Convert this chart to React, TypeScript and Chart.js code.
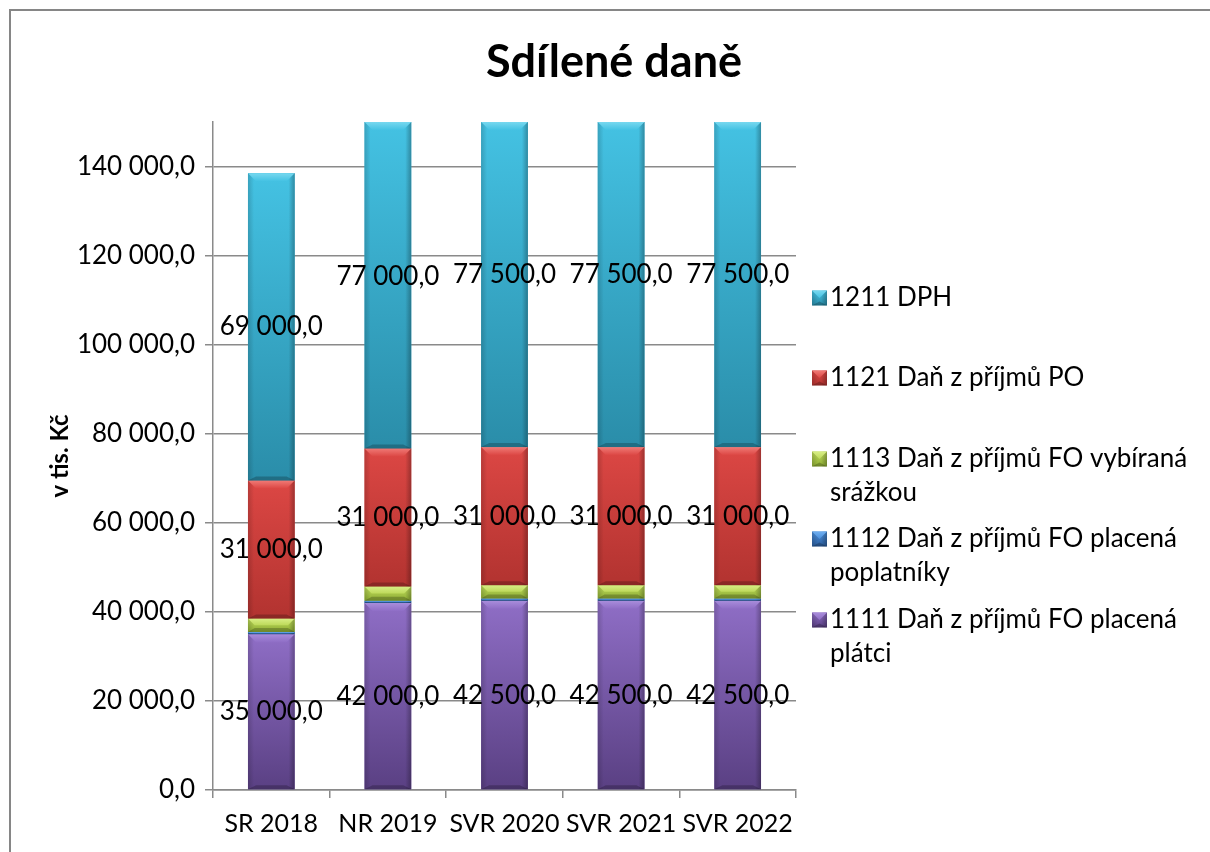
import React, { useEffect, useRef } from 'react';
import { Chart, registerables } from 'chart.js';

Chart.register(...registerables);

// ---- data ----
const categories = ['SR 2018', 'NR 2019', 'SVR 2020', 'SVR 2021', 'SVR 2022'];
const seriesLabels = [
  '1111 Daň z příjmů FO placená plátci',
  '1112 Daň z příjmů FO placená poplatníky',
  '1113 Daň z příjmů FO vybíraná srážkou',
  '1121 Daň z příjmů PO',
  '1211 DPH',
];
const s1111 = [35000, 42000, 42500, 42500, 42500];
const s1112 = [500, 500, 500, 500, 500];
const s1113 = [3000, 3200, 3000, 3000, 3000];
const s1121 = [31000, 31000, 31000, 31000, 31000];
const s1211 = [69000, 77000, 77500, 77500, 77500];
const showValueLabels = [true, false, false, true, true];
const yTicks = [0, 20000, 40000, 60000, 80000, 100000, 120000, 140000];
const yMin = 0;
const yMax = 150000;
const chartTitle = 'Sdílené daně';
const yTitle = 'v tis. Kč';

// ---- styles ----
const palettes = [
  { base: '#7A5AAE', light: '#8F6EC6', dark: '#5A4083', hi: '#A98DDB' },
  { base: '#3D78C2', light: '#4A8FDB', dark: '#2C5E9E', hi: '#6EAEF0' },
  { base: '#A5C445', light: '#BDD95A', dark: '#8FAE35', hi: '#D8EE85' },
  { base: '#C93F3C', light: '#DC4744', dark: '#B23330', hi: '#F07A76' },
  { base: '#37A8C8', light: '#44C2E3', dark: '#2A8DA9', hi: '#78D8EF' },
];
const FONT = 'Lato, "Open Sans", sans-serif';
const GRID = '#8a8a8a';

function fmt(v: number): string {
  const s = Math.round(v).toString().replace(/\B(?=(\d{3})+(?!\d))/g, ' ');
  return s + ',0';
}

function poly(ctx: CanvasRenderingContext2D, pts: number[][], fill: any) {
  ctx.beginPath();
  ctx.moveTo(pts[0][0], pts[0][1]);
  for (let i = 1; i < pts.length; i++) ctx.lineTo(pts[i][0], pts[i][1]);
  ctx.closePath();
  ctx.fillStyle = fill;
  ctx.fill();
}

function drawBevel(ctx: CanvasRenderingContext2D, L: number, R: number, T: number, B: number, pal: any) {
  const h = B - T;
  const w = R - L;
  if (h <= 0 || w <= 0) return;
  const g = ctx.createLinearGradient(0, T, 0, B);
  g.addColorStop(0, pal.light);
  g.addColorStop(1, pal.dark);
  ctx.fillStyle = g;
  ctx.fillRect(L, T, w, h);
  const b = Math.min(8, h / 2, w / 2);
  const bb = Math.min(4, h / 3);
  const sw = Math.min(6, w / 2);
  const gl = ctx.createLinearGradient(L, 0, L + sw, 0);
  gl.addColorStop(0, 'rgba(0,0,0,0.16)');
  gl.addColorStop(1, 'rgba(0,0,0,0)');
  ctx.fillStyle = gl;
  ctx.fillRect(L, T, sw, h);
  const gr = ctx.createLinearGradient(R, 0, R - sw, 0);
  gr.addColorStop(0, 'rgba(0,0,0,0.28)');
  gr.addColorStop(1, 'rgba(0,0,0,0)');
  ctx.fillStyle = gr;
  ctx.fillRect(R - sw, T, sw, h);
  const gt = ctx.createLinearGradient(0, T, 0, T + b);
  gt.addColorStop(0, pal.hi);
  gt.addColorStop(1, pal.light);
  poly(ctx, [[L, T], [R, T], [R - b, T + b], [L + b, T + b]], gt);
  poly(ctx, [[L, B], [R, B], [R - b, B - bb], [L + b, B - bb]], 'rgba(0,0,0,0.22)');
}

const bevelPlugin = {
  id: 'bevelBars',
  afterDatasetsDraw(chart: any) {
    const { ctx, chartArea } = chart;
    ctx.save();
    ctx.beginPath();
    ctx.rect(chartArea.left, chartArea.top, chartArea.right - chartArea.left, chartArea.bottom - chartArea.top);
    ctx.clip();
    chart.data.datasets.forEach((_ds: any, di: number) => {
      const meta = chart.getDatasetMeta(di);
      if (meta.hidden) return;
      meta.data.forEach((el: any) => {
        const p = el.getProps(['x', 'y', 'base', 'width'], true);
        const L = p.x - p.width / 2;
        const R = p.x + p.width / 2;
        const T = Math.max(Math.min(p.y, p.base), chartArea.top);
        const B = Math.max(p.y, p.base);
        drawBevel(ctx, L, R, T, B, palettes[di]);
      });
    });
    ctx.restore();
  },
};

const valueLabelPlugin = {
  id: 'valueLabels',
  afterDatasetsDraw(chart: any) {
    const { ctx } = chart;
    const yScale = chart.scales.y;
    ctx.save();
    ctx.font = `26px ${FONT}`;
    ctx.fillStyle = '#000';
    ctx.textAlign = 'center';
    ctx.textBaseline = 'middle';
    const dsets = chart.data.datasets;
    dsets.forEach((ds: any, di: number) => {
      if (!showValueLabels[di]) return;
      const meta = chart.getDatasetMeta(di);
      meta.data.forEach((el: any, i: number) => {
        let start = 0;
        for (let k = 0; k < di; k++) start += dsets[k].data[i];
        const v = ds.data[i];
        const y = yScale.getPixelForValue(start + v / 2);
        ctx.fillText(fmt(v), el.x, y);
      });
    });
    ctx.restore();
  },
};

const decorPlugin = {
  id: 'decor',
  afterDraw(chart: any) {
    const { ctx, width, height } = chart;
    ctx.save();
    ctx.strokeStyle = '#868686';
    ctx.lineWidth = 2;
    ctx.beginPath();
    ctx.moveTo(10, height + 2);
    ctx.lineTo(10, 10);
    ctx.lineTo(width + 2, 10);
    ctx.stroke();
    ctx.fillStyle = '#000';
    ctx.font = `bold 45px ${FONT}`;
    ctx.textAlign = 'center';
    ctx.textBaseline = 'middle';
    ctx.fillText(chartTitle, 614, 62);
    const firstLineY = [298, 378, 459, 539, 620];
    const lineH = 33.5;
    const textX = 830;
    const maxW = 372;
    const order = [4, 3, 2, 1, 0];
    order.forEach((di, k) => {
      const y0 = firstLineY[k];
      drawBevel(ctx, 812, 827, y0 - 7.5, y0 + 7.5, palettes[di]);
      ctx.font = `26px ${FONT}`;
      ctx.textAlign = 'left';
      ctx.textBaseline = 'middle';
      ctx.fillStyle = '#000';
      const words = seriesLabels[di].split(' ');
      const lines: string[] = [];
      let cur = '';
      words.forEach((w) => {
        const t = cur ? cur + ' ' + w : w;
        if (ctx.measureText(t).width > maxW && cur) {
          lines.push(cur);
          cur = w;
        } else cur = t;
      });
      if (cur) lines.push(cur);
      lines.forEach((ln, j) => ctx.fillText(ln, textX, y0 + j * lineH));
    });
    ctx.restore();
  },
};

export default function App() {
  const ref = useRef<HTMLCanvasElement | null>(null);
  useEffect(() => {
    if (!ref.current) return;
    const seriesData = [s1111, s1112, s1113, s1121, s1211];
    const chart = new Chart(ref.current, {
      type: 'bar',
      data: {
        labels: categories,
        datasets: seriesData.map((d, i) => ({
          label: seriesLabels[i],
          data: d,
          backgroundColor: palettes[i].base,
          borderWidth: 0,
          barPercentage: 0.4,
          categoryPercentage: 1.0,
        })),
      },
      options: {
        responsive: false,
        maintainAspectRatio: false,
        animation: false,
        events: [],
        layout: { padding: { left: 10, right: 414, top: 122, bottom: 0 } },
        plugins: {
          legend: { display: false },
          title: { display: false },
          tooltip: { enabled: false },
        },
        scales: {
          x: {
            stacked: true,
            grid: {
              display: true,
              drawOnChartArea: false,
              drawTicks: true,
              tickLength: 8,
              color: GRID,
              lineWidth: 1.5,
              offset: true,
            },
            border: { display: true, color: GRID, width: 1.5 },
            ticks: {
              color: '#000',
              font: { family: FONT, size: 25 },
              padding: 11,
              maxRotation: 0,
              minRotation: 0,
              autoSkip: false,
            },
            afterFit(scale: any) {
              scale.height = 62;
            },
          },
          y: {
            stacked: true,
            min: yMin,
            max: yMax,
            grid: { color: GRID, lineWidth: 1.5, tickLength: 8, drawTicks: true },
            border: { display: true, color: GRID, width: 1.5 },
            ticks: {
              color: '#000',
              font: { family: FONT, size: 26 },
              padding: 10,
              callback: (v: any) => fmt(Number(v)),
            },
            title: {
              display: true,
              text: yTitle,
              color: '#000',
              font: { family: FONT, size: 24, weight: 'bold' },
              padding: { top: 36, bottom: 0 },
            },
            afterBuildTicks(scale: any) {
              scale.ticks = yTicks.map((v) => ({ value: v }));
            },
            afterFit(scale: any) {
              scale.width = 203;
            },
          },
        },
      },
      plugins: [bevelPlugin, valueLabelPlugin, decorPlugin],
    } as any);
    let alive = true;
    if ((document as any).fonts && (document as any).fonts.ready) {
      (document as any).fonts.ready.then(() => {
        if (alive) chart.update();
      });
    }
    return () => {
      alive = false;
      chart.destroy();
    };
  }, []);
  return (
    <div style={{ position: 'absolute', left: 0, top: 0, width: 1210, height: 852, background: '#fff' }}>
      <canvas ref={ref} width={1210} height={852} style={{ display: 'block', width: 1210, height: 852 }} />
    </div>
  );
}
